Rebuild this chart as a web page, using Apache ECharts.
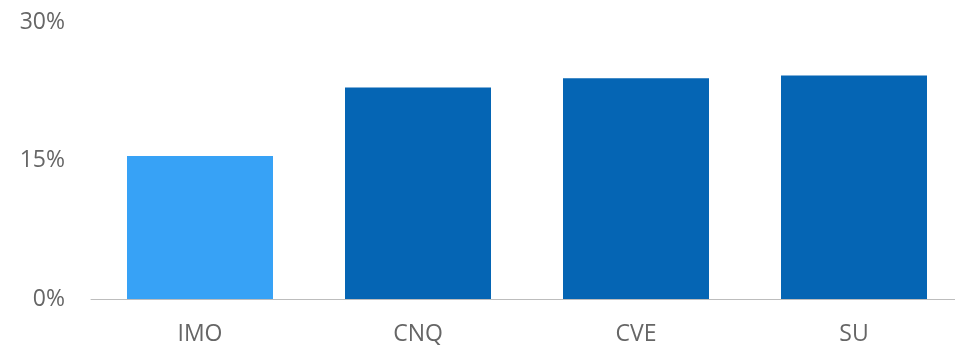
<!DOCTYPE html>
<html>
<head>
<meta charset="utf-8">
<script src="https://cdn.jsdelivr.net/npm/echarts@6/dist/echarts.min.js"></script>
<style>
html,body{margin:0;padding:0;background:#fff;overflow:hidden;width:955px;height:346px;}
#chart{width:975px;height:346px;}
</style>
</head>
<body>
<div id="chart"></div>
<script>
const categories = ["IMO", "CNQ", "CVE", "SU"];
const values = [15.5, 22.9, 23.9, 24.2];
const barColors = ["#37a2f6", "#0565b4", "#0565b4", "#0565b4"];
const yTicks = [0, 15, 30];

const chart = echarts.init(document.getElementById('chart'));
chart.setOption({
  animation: false,
  backgroundColor: '#fff',
  grid: { left: 91, top: 22, width: 872, height: 278, containLabel: false },
  xAxis: {
    type: 'category',
    data: categories,
    axisLine: { show: true, lineStyle: { color: '#bdbdbd', width: 1 } },
    axisTick: { show: false },
    axisLabel: { color: '#666', fontSize: 23, fontFamily: 'Open Sans', margin: 24 }
  },
  yAxis: {
    type: 'value',
    min: yTicks[0],
    max: yTicks[yTicks.length - 1],
    interval: 15,
    splitLine: { show: false },
    axisLine: { show: false },
    axisTick: { show: false },
    axisLabel: { color: '#666', fontSize: 23, fontFamily: 'Open Sans', margin: 26, formatter: v => v + '%' }
  },
  series: [{
    type: 'bar',
    data: values.map((v, i) => ({ value: v, itemStyle: { color: barColors[i] } })),
    barWidth: 146
  }]
});
</script>
</body>
</html>
